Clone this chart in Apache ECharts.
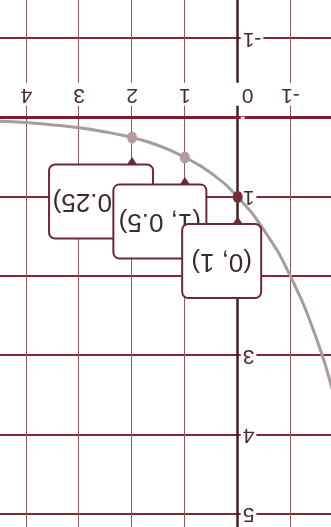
<!DOCTYPE html>
<html>
<head>
<meta charset="utf-8">
<script src="https://cdn.jsdelivr.net/npm/echarts@6/dist/echarts.min.js"></script>
<style>
  body { margin: 0; background: #fff; }
  /* the reference is photographed upside down */
  #chart { width: 331px; height: 527px; transform: rotate(180deg); }
</style>
</head>
<body>
<div id="chart"></div>
<script>
  // curve
  var curveX = [-1.8, -1.5, -1, -0.5, 0, 0.5, 1, 1.5, 2, 2.5, 3, 3.5, 4, 4.5];
  var curveY = [3.45, 2.8, 2, 1.42, 1, 0.7, 0.5, 0.35, 0.25, 0.18, 0.125, 0.09, 0.06, 0.045];

  // labelled points, drawn back to front
  var pointX = [2, 1, 0];
  var pointY = [0.25, 0.5, 1];
  var pointText = ['(2, 0.25)', '(1, 0.5)', '(0, 1)'];

  var xTickLabels = ['-1', '0', '1', '2', '3', '4'];
  var yTickLabels = ['-1', '1', '2', '3', '4', '5'];

  // box look per point (same order as above)
  var boxLook = [
    { dx: 31, w: 102, dot: '#b49c9e' },
    { dx: 25, w: 91, dot: '#b49c9e' },
    { dx: 16, w: 77, dot: '#6b3339' }
  ];

  var curve = curveX.map(function (x, i) { return [x, curveY[i]]; });
  var points = pointX.map(function (x, i) {
    return {
      value: [x, pointY[i]],
      itemStyle: { color: boxLook[i].dot },
      label: { formatter: pointText[i], offset: [boxLook[i].dx, 0], width: boxLook[i].w }
    };
  });
  var arrows = pointX.map(function (x, i) { return [x, pointY[i]]; });

  var labelFont = "'Liberation Sans', Arimo, sans-serif";

  var chart = echarts.init(document.getElementById('chart'));
  var option = {
    animation: false,
    backgroundColor: '#fff',
    grid: {
      left: -12.3, width: 369.7, top: -66.4, height: 634.2,
      containLabel: false,
      outerBoundsMode: 'none'
    },
    xAxis: {
      type: 'value',
      min: -2, max: 5, interval: 1,
      position: 'bottom',
      offset: -158.6,        // puts the axis on y = 0
      axisLine: { onZero: false, lineStyle: { color: '#7c1d2b', width: 3 } },
      axisTick: { show: false },
      axisLabel: {
        margin: 12,
        fontSize: 21,
        fontFamily: labelFont,
        color: '#4a2a2e',
        backgroundColor: '#fff',
        padding: [1, 2],
        formatter: function (v) {
          var s = String(v);
          if (xTickLabels.indexOf(s) < 0) return '';
          return s === '0' ? '{z|0}' : s;
        },
        rich: { z: { fontSize: 21, fontFamily: labelFont, color: '#4a2a2e', padding: [0, 20, 0, 0] } }
      },
      splitLine: { show: true, lineStyle: { color: '#8a5c62', width: 1 } }
    },
    yAxis: {
      type: 'value',
      min: -2, max: 6, interval: 1,
      position: 'left',
      offset: -105.6,        // puts the axis on x = 0
      axisLine: { onZero: false, lineStyle: { color: '#3f2026', width: 2.5 } },
      axisTick: { show: false },
      axisLabel: {
        margin: 3,
        fontSize: 21,
        fontFamily: labelFont,
        color: '#4a2a2e',
        backgroundColor: '#fff',
        padding: [1, 2],
        formatter: function (v) {
          var s = String(v);
          return yTickLabels.indexOf(s) < 0 ? '' : s;
        }
      },
      splitLine: { show: true, lineStyle: { color: '#7e2a35', width: 2 } }
    },
    series: [
      {
        type: 'line',
        data: curve,
        smooth: true,
        symbol: 'none',
        lineStyle: { color: '#a59c9d', width: 3 },
        z: 2
      },
      {
        type: 'scatter',
        data: arrows,
        symbol: 'triangle',
        symbolSize: [12, 9],
        symbolRotate: 180,
        symbolOffset: [0, -24],
        itemStyle: { color: '#6b2a32', opacity: 1 },
        z: 3
      },
      {
        type: 'scatter',
        data: points,
        symbol: 'circle',
        symbolSize: [10, 12],
        itemStyle: { opacity: 1 },
        z: 4,
        label: {
          show: true,
          position: 'top',
          distance: 22,
          fontSize: 26,
          lineHeight: 32,
          fontFamily: labelFont,
          color: '#3b2a2c',
          align: 'center',
          backgroundColor: '#fff',
          borderColor: '#6b2a32',
          borderWidth: 2,
          borderRadius: 5,
          padding: [20, 0]
        }
      }
    ]
  };
  chart.setOption(option);
</script>
</body>
</html>
